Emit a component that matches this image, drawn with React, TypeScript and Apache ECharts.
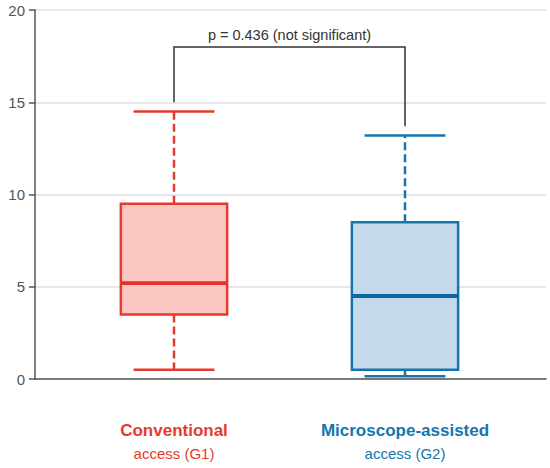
import React, { useEffect, useRef } from "react";
import * as echarts from "echarts";

// ---- data ----
const categories = ["Conventional", "Microscope-assisted"];
const subLabels = ["access (G1)", "access (G2)"];
const whiskerLow = [0.5, 0.15];
const q1Values = [3.5, 0.5];
const medians = [5.2, 4.5];
const q3Values = [9.5, 8.5];
const whiskerHigh = [14.5, 13.2];
const yTicks = [0, 5, 10, 15, 20];
const bracketLevel = 18;
const bracketEnds = [15, 13.7];
const pLabel = "p = 0.436 (not significant)";

// ---- styles ----
const strokeColors = ["#e63a2e", "#1476ad"];
const medianColors = ["#e0342a", "#0c689f"];
const fillColors = ["#fcc6c3", "#c4d9ec"];
const FONT = "'Liberation Sans', Arial, sans-serif";

export default function App() {
  const ref = useRef<HTMLDivElement>(null);
  useEffect(() => {
    document.body.style.margin = "0";
    if (!ref.current) return;
    const chart = echarts.init(ref.current, undefined, { renderer: "svg" });

    const boxData = categories.map((_, i) => [
      i,
      whiskerLow[i],
      q1Values[i],
      medians[i],
      q3Values[i],
      whiskerHigh[i],
    ]);

    const option: any = {
      animation: false,
      textStyle: { fontFamily: FONT },
      grid: [
        { left: 35, right: 4, top: 10, bottom: 89 },
        { left: 58.5, right: 29.5, top: 10, bottom: 89 },
      ],
      xAxis: [
        {
          gridIndex: 0,
          type: "value",
          min: 0,
          max: 1,
          axisLine: { show: true, lineStyle: { color: "#555", width: 1.5 } },
          axisTick: { show: false },
          axisLabel: { show: false },
          splitLine: { show: false },
        },
        {
          gridIndex: 1,
          type: "category",
          data: categories,
          axisLine: { show: false },
          axisTick: { show: false },
          splitLine: { show: false },
          axisLabel: {
            margin: 40,
            interval: 0,
            formatter: (v: string, i: number) =>
              `{t${i}|${v}}\n{s${i}|${subLabels[i]}}`,
            rich: {
              t0: { color: strokeColors[0], fontSize: 17, fontWeight: "bold", lineHeight: 23, fontFamily: FONT },
              s0: { color: strokeColors[0], fontSize: 15, lineHeight: 23, fontFamily: FONT },
              t1: { color: strokeColors[1], fontSize: 17, fontWeight: "bold", lineHeight: 23, fontFamily: FONT },
              s1: { color: strokeColors[1], fontSize: 15, lineHeight: 23, fontFamily: FONT },
            },
          },
        },
      ],
      yAxis: [
        {
          gridIndex: 0,
          type: "value",
          min: yTicks[0],
          max: yTicks[yTicks.length - 1],
          interval: yTicks[1] - yTicks[0],
          axisLine: { show: true, lineStyle: { color: "#555", width: 1.5 } },
          axisTick: { show: true, length: 6, lineStyle: { color: "#555", width: 1.5 } },
          axisLabel: { color: "#555", fontSize: 15, margin: 10, fontFamily: FONT },
          splitLine: { show: true, lineStyle: { color: "#dcdfe4", width: 1.5 } },
        },
        {
          gridIndex: 1,
          type: "value",
          min: yTicks[0],
          max: yTicks[yTicks.length - 1],
          show: false,
          splitLine: { show: false },
        },
      ],
      series: [
        {
          type: "custom",
          xAxisIndex: 1,
          yAxisIndex: 1,
          encode: { x: 0, y: [1, 2, 3, 4, 5] },
          data: boxData,
          renderItem: (params: any, api: any) => {
            const i = api.value(0);
            const band = api.size([1, 0])[0];
            const boxW = band * 0.46;
            const capW = band * 0.35;
            const cx = api.coord([i, api.value(3)])[0];
            const yLo = api.coord([i, api.value(1)])[1];
            const yQ1 = api.coord([i, api.value(2)])[1];
            const yMed = api.coord([i, api.value(3)])[1];
            const yQ3 = api.coord([i, api.value(4)])[1];
            const yHi = api.coord([i, api.value(5)])[1];
            const stroke = strokeColors[i];
            const dashed = { stroke, lineWidth: 2.5, lineDash: [8, 4] };
            return {
              type: "group",
              children: [
                {
                  type: "line",
                  shape: { x1: cx, y1: yQ3, x2: cx, y2: yHi },
                  style: dashed,
                },
                {
                  type: "line",
                  shape: { x1: cx, y1: yQ1, x2: cx, y2: yLo },
                  style: dashed,
                },
                {
                  type: "line",
                  shape: { x1: cx - capW / 2, y1: yHi, x2: cx + capW / 2, y2: yHi },
                  style: { stroke, lineWidth: 2.5 },
                },
                {
                  type: "line",
                  shape: { x1: cx - capW / 2, y1: yLo, x2: cx + capW / 2, y2: yLo },
                  style: { stroke, lineWidth: 2.5 },
                },
                {
                  type: "rect",
                  shape: { x: cx - boxW / 2, y: yQ3, width: boxW, height: yQ1 - yQ3 },
                  style: { fill: fillColors[i], stroke, lineWidth: 2.5 },
                },
                {
                  type: "line",
                  shape: { x1: cx - boxW / 2, y1: yMed, x2: cx + boxW / 2, y2: yMed },
                  style: { stroke: medianColors[i], lineWidth: 3.8 },
                },
              ],
            };
          },
          z: 5,
        },
        {
          type: "custom",
          xAxisIndex: 1,
          yAxisIndex: 1,
          encode: { x: 0, y: 1 },
          data: [[0, bracketLevel]],
          renderItem: (params: any, api: any) => {
            const a = api.coord([0, bracketEnds[0]]);
            const b = api.coord([0, bracketLevel]);
            const c = api.coord([1, bracketLevel]);
            const d = api.coord([1, bracketEnds[1]]);
            return {
              type: "group",
              children: [
                {
                  type: "polyline",
                  shape: { points: [a, b, c, d] },
                  style: { stroke: "#333", lineWidth: 1.5, fill: "none" },
                },
                {
                  type: "text",
                  style: {
                    text: pLabel,
                    x: (b[0] + c[0]) / 2,
                    y: b[1] - 4,
                    align: "center",
                    verticalAlign: "bottom",
                    fill: "#333",
                    font: `14.5px ${FONT}`,
                  },
                },
              ],
            };
          },
          z: 6,
        },
      ],
    };
    chart.setOption(option);
    return () => chart.dispose();
  }, []);
  return <div ref={ref} style={{ width: 550, height: 468 }} />;
}
